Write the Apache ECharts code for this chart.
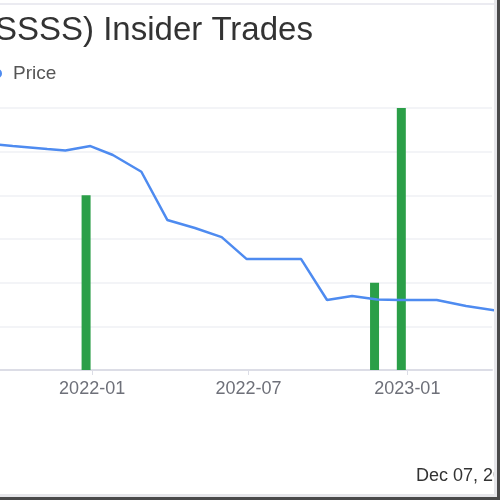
<!DOCTYPE html>
<html>
<head>
<meta charset="utf-8">
<script src="https://cdn.jsdelivr.net/npm/echarts@6/dist/echarts.min.js"></script>
<style>
html,body{margin:0;padding:0;width:500px;height:500px;overflow:hidden;background:#fff;position:relative;}
#chart{position:absolute;left:-100px;top:0;width:600px;height:500px;}
.fr{position:absolute;z-index:10;}
</style>
</head>
<body>
<div id="chart"></div>
<div class="fr" style="left:0;top:3px;width:495px;height:2px;background:#ebebf1;"></div>
<div class="fr" style="left:494px;top:0;width:3px;height:500px;background:#e6e6ea;"></div>
<div class="fr" style="left:497px;top:0;width:3px;height:500px;background:#4a4a4a;"></div>
<div class="fr" style="left:0;top:494px;width:497px;height:3px;background:#e6e6ea;"></div>
<div class="fr" style="left:0;top:497px;width:500px;height:3px;background:#4a4a4a;"></div>
<script>
// Price series (date, price)
const priceDates = ['2021-08-01','2021-10-01','2021-11-10','2021-12-01','2021-12-30','2022-01-25','2022-02-27','2022-03-29','2022-04-30','2022-05-31','2022-06-29','2022-08-31','2022-09-30','2022-10-29','2022-11-27','2022-12-23','2023-02-04','2023-03-10','2023-04-20'];
const priceValues = [13.11,12.82,12.65,12.57,12.82,12.31,11.35,8.59,8.13,7.61,6.35,6.35,4.01,4.24,4.04,4.01,4.01,3.66,3.35];
// Insider trades (date, size)
const tradeDates = ['2021-12-25','2022-11-24','2022-12-25'];
const tradeValues = [4000,2000,6000];
// x-axis tick labels
const tickDates = ['2022-01-01','2022-07-01','2023-01-01'];
const tickLabels = ['2022-01','2022-07','2023-01'];

function ts(s){const p=s.split('-');return Date.UTC(+p[0],+p[1]-1,+p[2]);}
const tickTs = tickDates.map(ts);

const chart = echarts.init(document.getElementById('chart'));
chart.setOption({
  animation:false,
  backgroundColor:'#fff',
  title:{
    text:'(SSSS) Insider Trades',
    left:84, top:14, padding:0,
    textStyle:{fontFamily:'Liberation Sans, Arial, sans-serif',fontSize:33,fontWeight:'normal',color:'#333'}
  },
  legend:{
    data:['Price'], left:92, top:64, padding:0,
    icon:'circle', itemWidth:10, itemHeight:10,
    textStyle:{fontFamily:'Liberation Sans, Arial, sans-serif',fontSize:19,color:'#555',padding:[0,0,0,6]}
  },
  graphic:[{
    type:'text', left:516, top:467,
    style:{text:'Dec 07, 2023',fontFamily:'Liberation Sans, Arial, sans-serif',fontSize:18,fill:'#333'}
  }],
  grid:{left:60,right:8,top:108,bottom:130,containLabel:false},
  xAxis:{
    type:'value',
    min:ts('2021-08-01'), max:ts('2023-04-09'),
    axisLine:{lineStyle:{color:'#dcdde6',width:2}},
    axisTick:{show:true,customValues:tickTs,length:5,lineStyle:{color:'#dcdde6'}},
    axisLabel:{customValues:tickTs,margin:10,fontSize:18,fontFamily:'Liberation Sans, Arial, sans-serif',color:'#6e7079',
      formatter:function(v){const i=tickTs.indexOf(v);return i>=0?tickLabels[i]:'';}},
    splitLine:{show:false}
  },
  yAxis:[{
    type:'value',min:0,max:15,interval:2.5,
    axisLine:{show:false},axisTick:{show:false},
    axisLabel:{show:true,fontSize:18,color:'#6e7079'},
    splitLine:{lineStyle:{color:'#eff0f4',width:1.5}}
  },{
    type:'value',min:0,max:6000,interval:1000,
    axisLine:{show:false},axisTick:{show:false},
    axisLabel:{show:false},splitLine:{show:false}
  }],
  series:[{
    name:'Trades',type:'bar',yAxisIndex:1,barWidth:9,z:2,
    itemStyle:{color:'#2b9f48'},
    data:tradeDates.map((d,i)=>[ts(d),tradeValues[i]])
  },{
    name:'Price',type:'line',yAxisIndex:0,z:3,clip:false,
    showSymbol:false,symbol:'circle',
    lineStyle:{color:'#4e8bf0',width:2.5},
    itemStyle:{color:'#4e8bf0'},
    data:priceDates.map((d,i)=>[ts(d),priceValues[i]])
  }]
});
</script>
</body>
</html>
